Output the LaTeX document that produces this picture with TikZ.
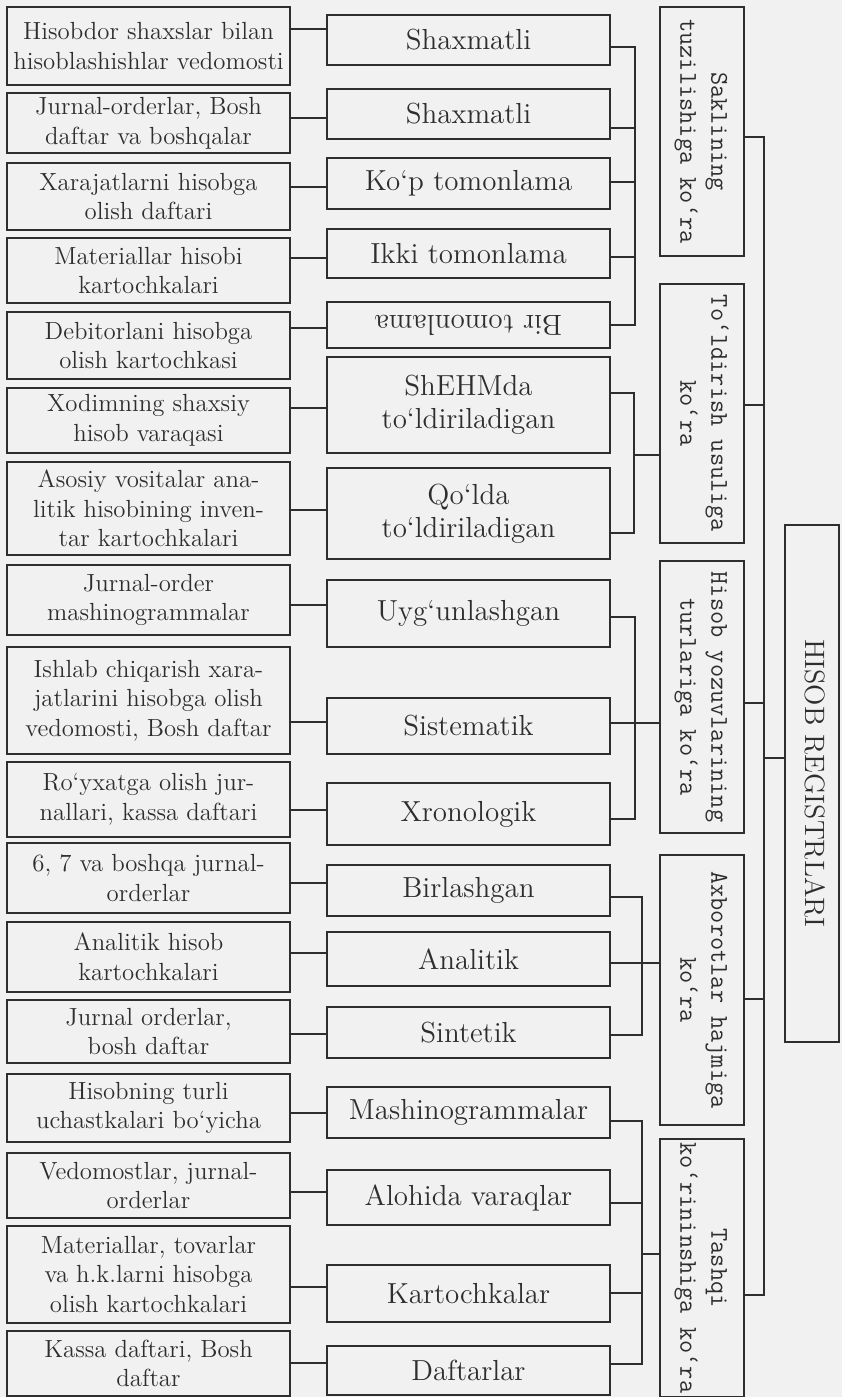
\documentclass[tikz,border=0pt]{standalone}
\usepackage{graphicx}
\definecolor{ink}{HTML}{2E2E2E}
\definecolor{paper}{HTML}{F1F1F1}
\tikzset{
  x=0.5pt, y=-0.5pt,
  base/.style={draw=ink, line width=1.3pt, text=ink, inner sep=1pt, align=center},
  lb/.style={base, minimum width=141.5pt, font=\fontsize{12.4}{14.8}\selectfont},
  mb/.style={base, minimum width=141.5pt, font=\fontsize{14.5}{16.5}\selectfont},
  cb/.style={base, minimum width=42pt, font=\ttfamily\fontsize{12.8}{15.5}\selectfont},
  hb/.style={base, minimum width=27pt, font=\fontsize{14}{16}\selectfont},
  wire/.style={draw=ink, line width=1.05pt}
}
\newcommand\vtxt[1]{\rotatebox{-90}{\begin{tabular}{@{}c@{}}#1\end{tabular}}}
\begin{document}
\begin{tikzpicture}
\useasboundingbox (0,0) rectangle (842,1397);
\fill[paper] (0,0) rectangle (842,1397);

% left boxes
\node[lb, minimum height=39pt]   (l1)  at (148.5,46)    {Hisobdor shaxslar bilan\\hisoblashishlar vedomosti};
\node[lb, minimum height=30pt]   (l2)  at (148.5,123)   {Jurnal-orderlar, Bosh\\daftar va boshqalar};
\node[lb, minimum height=33.5pt] (l3)  at (148.5,196.5) {Xarajatlarni hisobga\\olish daftari};
\node[lb, minimum height=32.5pt] (l4)  at (148.5,270.5) {Materiallar hisobi\\kartochkalari};
\node[lb, minimum height=33.5pt] (l5)  at (148.5,345.5) {Debitorlani hisobga\\olish kartochkasi};
\node[lb, minimum height=32.5pt] (l6)  at (148.5,420.5) {Xodimning shaxsiy\\hisob varaqasi};
\node[lb, minimum height=46.5pt] (l7)  at (148.5,508.5) {Asosiy vositalar ana-\\litik hisobining inven-\\tar kartochkalari};
\node[lb, minimum height=35pt]   (l8)  at (148.5,600)   {Jurnal-order\\mashinogrammalar};
\node[lb, minimum height=53.5pt] (l9)  at (148.5,700.5) {Ishlab chiqarish xara-\\jatlarini hisobga olish\\vedomosti, Bosh daftar};
\node[lb, minimum height=37.5pt] (l10) at (148.5,799.5) {Ro‘yxatga olish jur-\\nallari, kassa daftari};
\node[lb, minimum height=35pt]   (l11) at (148.5,878)   {6, 7 va boshqa jurnal-\\orderlar};
\node[lb, minimum height=35pt]   (l12) at (148.5,957)   {Analitik hisob\\kartochkalari};
\node[lb, minimum height=31.5pt] (l13) at (148.5,1031.5){Jurnal orderlar,\\bosh daftar};
\node[lb, minimum height=34pt]   (l14) at (148.5,1108)  {Hisobning turli\\uchastkalari bo‘yicha};
\node[lb, minimum height=32.5pt] (l15) at (148.5,1185.5){Vedomostlar, jurnal-\\orderlar};
\node[lb, minimum height=48.5pt] (l16) at (148.5,1274.5){Materiallar, tovarlar\\va h.k.larni hisobga\\olish kartochkalari};
\node[lb, minimum height=32.5pt] (l17) at (148.5,1363.5){Kassa daftari, Bosh\\daftar};

% middle boxes
\node[mb, minimum height=25pt]   (m1)  at (468.5,40)    {Shaxmatli};
\node[mb, minimum height=25pt]   (m2)  at (468.5,114)   {Shaxmatli};
\node[mb, minimum height=25.5pt] (m3)  at (468.5,183.5) {Ko‘p tomonlama};
\node[mb, minimum height=24.5pt] (m4)  at (468.5,253.5) {Ikki tomonlama};
\node[mb, minimum height=23pt]   (m5)  at (468.5,325)   {\rotatebox{180}{Bir tomonlama}};
\node[mb, minimum height=48pt]   (m6)  at (468.5,405)   {ShEHMda\\to‘ldiriladigan};
\node[mb, minimum height=45.5pt] (m7)  at (468.5,513.5) {Qo‘lda\\to‘ldiriladigan};
\node[mb, minimum height=33.5pt] (m8)  at (468.5,613.5) {Uyg‘unlashgan};
\node[mb, minimum height=28pt]   (m9)  at (468.5,726)   {Sistematik};
\node[mb, minimum height=31pt]   (m10) at (468.5,814)   {Xronologik};
\node[mb, minimum height=25.5pt] (m11) at (468.5,890.5) {Birlashgan};
\node[mb, minimum height=27pt]   (m12) at (468.5,959)   {Analitik};
\node[mb, minimum height=25.5pt] (m13) at (468.5,1032.5){Sintetik};
\node[mb, minimum height=25.5pt] (m14) at (468.5,1112.5){Mashinogrammalar};
\node[mb, minimum height=27.5pt] (m15) at (468.5,1197.5){Alohida varaqlar};
\node[mb, minimum height=28.5pt] (m16) at (468.5,1293.5){Kartochkalar};
\node[mb, minimum height=24.5pt] (m17) at (468.5,1370.5){Daftarlar};

% category boxes
\node[cb, minimum height=124.5pt] (c1) at (702,131.5) {\vtxt{Saklining\\tuzilishiga ko‘ra}};
\node[cb, minimum height=129.5pt] (c2) at (702,413.5) {\vtxt{To‘ldirish usuliga\\ko‘ra}};
\node[cb, minimum height=136pt]   (c3) at (702,697)   {\vtxt{Hisob yozuvlarining\\turlariga ko‘ra}};
\node[cb, minimum height=135pt]   (c4) at (702,990)   {\vtxt{Axborotlar hajmiga\\ko‘ra}};
\node[cb, minimum height=129pt]   (c5) at (702,1268)  {\vtxt{Tashqi\\ko‘rininshiga ko‘ra}};

% main box
\node[hb, minimum height=258.5pt] (hr) at (812,783.5) {\vtxt{HISOB REGISTRLARI}};

% left-middle connectors
\foreach \i/\yy in {1/29,2/118,3/187,4/258,5/328,6/408,7/510,8/605,9/722,10/810,11/883,12/953,13/1034,14/1113,15/1192,16/1287,17/1363}
  \draw[wire] (l\i.east |- 0,\yy) -- (m\i.west |- 0,\yy);

% group 1
\draw[wire] (m1.east |- 0,47) -- (635,47) -- (635,325) -- (m5.east |- 0,325);
\draw[wire] (m2.east |- 0,128) -- (635,128);
\draw[wire] (m3.east |- 0,182) -- (635,182);
\draw[wire] (m4.east |- 0,257) -- (635,257);
% group 2
\draw[wire] (m6.east |- 0,393) -- (634,393) -- (634,533) -- (m7.east |- 0,533);
\draw[wire] (634,455) -- (c2.west |- 0,455);
% group 3
\draw[wire] (m8.east |- 0,617) -- (635,617) -- (635,819) -- (m10.east |- 0,819);
\draw[wire] (m9.east |- 0,723) -- (c3.west |- 0,723);
% group 4
\draw[wire] (m11.east |- 0,897) -- (642,897) -- (642,1035) -- (m13.east |- 0,1035);
\draw[wire] (m12.east |- 0,963) -- (c4.west |- 0,963);
% group 5
\draw[wire] (m14.east |- 0,1121) -- (642,1121) -- (642,1364) -- (m17.east |- 0,1364);
\draw[wire] (m15.east |- 0,1203) -- (642,1203);
\draw[wire] (m16.east |- 0,1293) -- (642,1293);
\draw[wire] (642,1254) -- (c5.west |- 0,1254);

% bus
\draw[wire] (c1.east |- 0,137) -- (764,137) -- (764,1295) -- (c5.east |- 0,1295);
\draw[wire] (c2.east |- 0,405) -- (764,405);
\draw[wire] (c3.east |- 0,703) -- (764,703);
\draw[wire] (c4.east |- 0,999) -- (764,999);
\draw[wire] (764,758) -- (hr.west |- 0,758);
\end{tikzpicture}
\end{document}
